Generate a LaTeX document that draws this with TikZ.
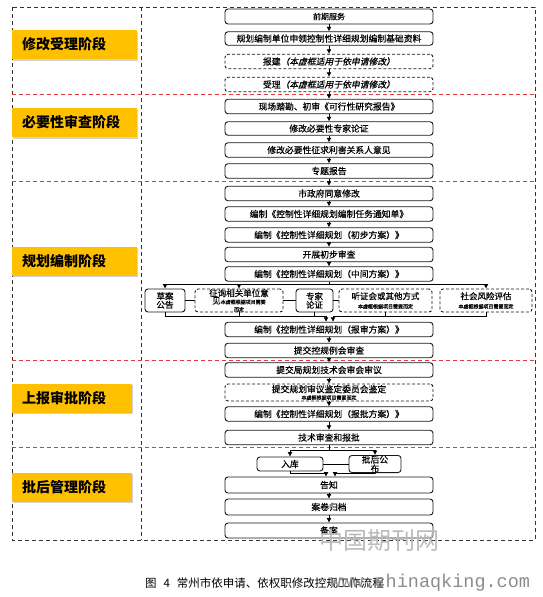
\documentclass[tikz,border=0pt]{standalone}
\usepackage{fontspec}
\setmainfont{Noto Sans CJK SC}
\newfontfamily\bx[FakeBold=0.5]{Noto Sans CJK SC}
\newfontfamily\cjkit[FakeSlant=0.2,FakeBold=0.5]{Noto Sans CJK SC}
\newfontfamily\latinmono{Liberation Mono}
\usetikzlibrary{arrows.meta,shadows}
\definecolor{stageyellow}{HTML}{FFC000}
\definecolor{redline}{HTML}{E0393E}
\definecolor{wm}{HTML}{BBBBBB}
\newcommand\smallnote{\fontsize{5}{5.5}\selectfont}
\tikzset{
  mainbox/.style={draw=black!90, line width=0.9pt, rounded corners=3pt, minimum width=208pt,
    minimum height=14.5pt, inner sep=0pt, font=\bx\fontsize{8.8}{10}\selectfont},
  dbox/.style={mainbox, dashed, dash pattern=on 3pt off 2pt},
  sidebox/.style={draw=black!90, line width=0.9pt, rounded corners=3pt, minimum height=23pt,
    inner sep=0pt, align=center, font=\bx\fontsize{8.5}{8.5}\selectfont},
  sidedash/.style={sidebox, dashed, dash pattern=on 3pt off 2pt},
  stage/.style={fill=stageyellow, anchor=west, minimum height=29pt, inner xsep=10pt, inner ysep=0pt,
    text width=105pt, align=left, font=\fontsize{14}{16}\selectfont\bfseries,
    drop shadow={opacity=0.35, shadow xshift=1.2pt, shadow yshift=-1.5pt}},
  arr/.style={-{Latex[length=4.5pt,width=5pt]}, line width=0.7pt},
  conn/.style={line width=0.7pt},
  frame/.style={dashed, dash pattern=on 4pt off 3pt, line width=0.8pt, black!80},
  redframe/.style={dashed, dash pattern=on 4pt off 3pt, line width=0.8pt, redline}
}
\begin{document}
\begin{tikzpicture}[x=1pt,y=-1pt]
\useasboundingbox (0,0) rectangle (543,597);
% frames
\draw[frame] (12,7) rectangle (535,540);
\draw[frame] (141,7) -- (141,540);
\foreach \yy in {94,181,360,447}
  \draw[redframe] (12,\yy) -- (535,\yy);
% stage labels
\node[stage] (st1) at (12,44.5) {修改受理阶段};
\node[stage] (st2) at (12,122.5) {必要性审查阶段};
\node[stage] (st3) at (12,261) {规划编制阶段};
\node[stage, text width=100pt] (st4) at (12,398) {上报审批阶段};
\node[stage, text width=100pt] (st5) at (12,487) {批后管理阶段};
% main boxes
\node[mainbox, font=\bx\fontsize{8}{9}\selectfont, minimum height=15pt] (b1) at (329,16.5) {前期服务};
\node[mainbox, minimum height=13.5pt] (b2) at (329,38.5) {规划编制单位申领控制性详细规划编制基础资料};
\node[dbox] (b3) at (329,61.5) {报建{\cjkit（本虚框适用于依申请修改）}};
\node[dbox] (b4) at (329,84.5) {受理{\cjkit（本虚框适用于依申请修改）}};
\node[mainbox] (b5) at (329,106.5) {现场踏勘、初审《可行性研究报告》};
\node[mainbox, minimum height=13.5pt] (b6) at (329,128.5) {修改必要性专家论证};
\node[mainbox] (b7) at (329,150) {修改必要性征求利害关系人意见};
\node[mainbox] (b8) at (329,171) {专题报告};
\node[mainbox] (b9) at (329,193.5) {市政府同意修改};
\node[mainbox] (b10) at (329,214) {编制《控制性详细规划编制任务通知单》};
\node[mainbox] (b11) at (329,235) {编制《控制性详细规划（初步方案）》};
\node[mainbox] (b12) at (329,254.5) {开展初步审查};
\node[mainbox] (b13) at (329,274) {编制《控制性详细规划（中间方案）》};
% side row
\node[sidebox, minimum width=40pt] (s1) at (165,300.5) {草案\\公告};
\node[sidedash, minimum width=88pt, font=\bx\fontsize{8.5}{7.5}\selectfont] (s2) at (239,300.5)
  {征询相关单位意\\见{\smallnote 本虚框根据项目需要}\\{\smallnote 而定}};
\node[sidebox, minimum width=37pt] (s3) at (314.5,300.5) {专家\\论证};
\node[sidedash, minimum width=93pt, font=\bx\fontsize{8.5}{9}\selectfont] (s4) at (385.5,300.5)
  {听证会或其他方式\\{\smallnote 本虚框根据项目需要而定}};
\node[sidedash, minimum width=92pt, font=\bx\fontsize{8.5}{9}\selectfont] (s5) at (486,300.5)
  {社会风险评估\\{\smallnote 本虚框根据项目需要而定}};
\node[mainbox] (b14) at (329,329.5) {编制《控制性详细规划（报审方案）》};
\node[mainbox] (b15) at (329,350.5) {提交控规例会审查};
\node[mainbox] (b16) at (329,370) {提交局规划技术会审会审议};
\node[dbox, minimum height=17pt, align=center, font=\bx\fontsize{8.8}{7}\selectfont] (b17) at (329,392.5)
  {提交规划审议鉴定委员会鉴定\\{\smallnote 本虚框根据项目需要而定}};
\node[mainbox] (b18) at (329,414) {编制《控制性详细规划（报批方案）》};
\node[mainbox] (b19) at (329,437.5) {技术审查和报批};
\node[mainbox, minimum width=66pt, minimum height=14pt] (rk) at (290,464) {入库};
\node[mainbox, minimum width=52pt, minimum height=14pt, align=center, font=\bx\fontsize{8.8}{9}\selectfont] (ph) at (375,464) {批后公\\布};
\node[mainbox, minimum height=16pt] (b20) at (329,485) {告知};
\node[mainbox, minimum height=16pt] (b21) at (329,507) {案卷归档};
\node[mainbox, minimum height=15pt] (b22) at (329,530.5) {备案};
% main arrows
\foreach \a/\b in {b1/b2,b2/b3,b3/b4,b4/b5,b5/b6,b6/b7,b7/b8,b8/b9,b9/b10,b10/b11,b11/b12,b12/b13,
                   b14/b15,b15/b16,b16/b17,b17/b18,b18/b19,b20/b21,b21/b22}
  \draw[arr] (\a.south) -- (\b.north);
% split to side row
\coordinate (sp1) at (329,284.5);
\draw[conn] (b13.south) -- (sp1);
\draw[arr] (sp1) -| (s1.north);
\draw[arr] (sp1) -| (s2.north);
\draw[arr] (sp1) -| (s5.north);
\draw[conn] (s1.east) -- (s2.west);
\draw[conn] (s2.east) -- (s3.west);
\draw[conn] (s3.east) -- (s4.west);
% merge into b14
\coordinate (mL) at (326,316);
\coordinate (mR) at (333,316);
\draw[conn] (s1.south) |- (mL);
\draw[conn] (s2.south) |- (mL);
\draw[conn] (s3.south) |- (mL);
\draw[conn] (s4.south) |- (mR);
\draw[conn] (s5.south) |- (mR);
\draw[arr] (mL) -- (mL |- b14.north);
\draw[arr] (mR) -- (mR |- b14.north);
% split to rk / ph
\coordinate (sp2) at (329,450);
\draw[conn] (b19.south) -- (sp2);
\draw[arr] (sp2) -| (rk.north);
\draw[arr] (sp2) -| (ph.north);
\draw[conn] (rk.east) -- (ph.west);
\coordinate (nL) at (326,473);
\coordinate (nR) at (335,473);
\draw[conn] (rk.south) |- (nL);
\draw[conn] (ph.south) |- (nR);
\draw[arr] (nL) -- (nL |- b20.north);
\draw[arr] (nR) -- (nR |- b20.north);
% caption
\node[anchor=west, inner sep=0pt, font=\fontsize{11.5}{13}\selectfont] (cap) at (145,583) {图\hspace{0.6em}4\hspace{0.6em}常州市依申请、依权职修改控规工作流程};
% watermarks
\node[text=wm, font=\fontsize{24}{26}\selectfont] (wm1) at (379,540) {中国期刊网};
\node[anchor=west, inner sep=0pt, text=black!45, font=\latinmono\fontsize{18.5}{20}\selectfont] (wm2) at (330,583) {www.chinaqking.com};
\end{tikzpicture}
\end{document}
